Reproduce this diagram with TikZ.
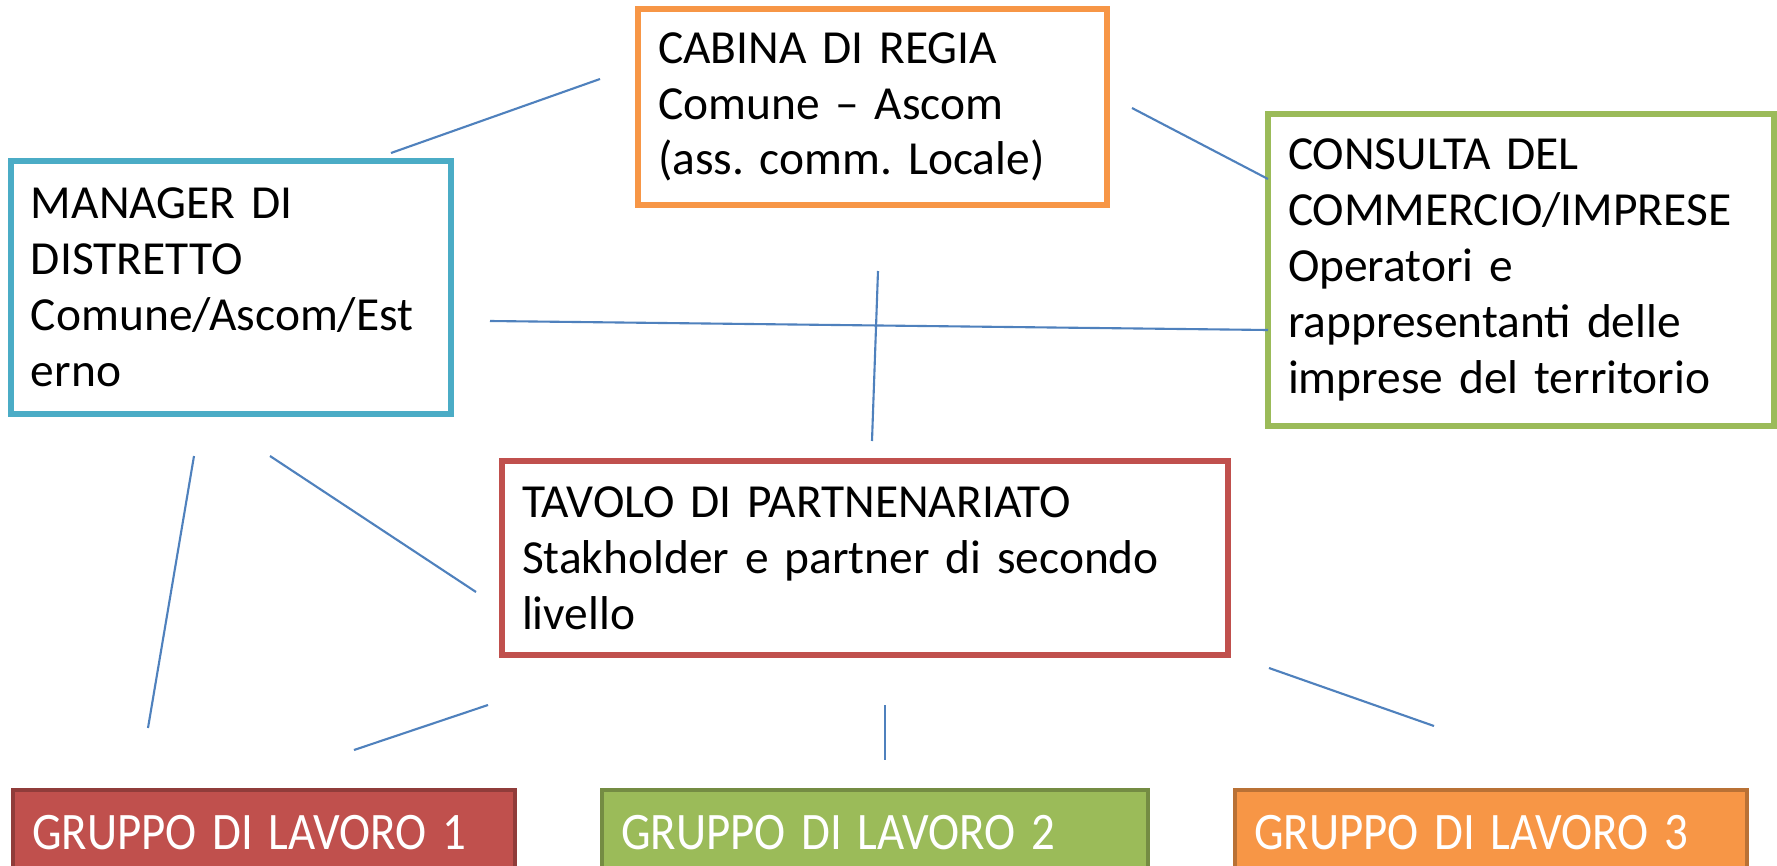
\documentclass[tikz,border=0pt]{standalone}
\usepackage{fontspec}
\setmainfont{Carlito}
\usepackage{tikz}
\usetikzlibrary{calc, positioning}
\usepackage{xcolor}

\definecolor{orangebox}{HTML}{F79646}
\definecolor{bluebox}{HTML}{4BACC6}
\definecolor{greenbox}{HTML}{9BBB59}
\definecolor{redbox}{HTML}{C0504D}
\definecolor{linkblue}{HTML}{4F81BD}

\tikzset{
    box/.style={draw, line width=1.6pt, fill=white, align=left, inner xsep=0.2cm, inner ysep=0pt,
        font=\fontsize{13.5}{15.9}\selectfont},
    group/.style={line width=1.2pt, inner xsep=0.19cm, inner ysep=0pt, minimum height=0.84cm,
        text=white, font=\fontsize{15}{18}\selectfont},
    link/.style={draw=linkblue, line width=0.6pt}
}

\begin{document}
\frenchspacing
\begin{tikzpicture}
                \coordinate (O) at (0, 0);

                \clip (O) rectangle (17.77, -8.66);
                \fill[white] (O) rectangle (17.77, -8.66);

                % boxes
                \node[box, draw=orangebox, text width=4.29cm, minimum height=1.96cm] (cabina) at ($ (O) + (8.725, -1.07) $) {CABINA DI REGIA\\Comune -- Ascom\\(ass. comm. Locale)};

                \node[box, draw=bluebox, text width=4.00cm, minimum height=2.53cm] (manager) at ($ (O) + (2.31, -2.875) $) {MANAGER DI\\DISTRETTO\\Comune/Ascom/Est\\erno};

                \node[box, draw=greenbox, text width=4.66cm, minimum height=3.12cm] (consulta) at ($ (O) + (15.21, -2.70) $) {CONSULTA DEL\\COMMERCIO/IMPRESE\\Operatori e\\rappresentanti delle\\imprese del territorio};

                \node[box, draw=redbox, text width=6.86cm, minimum height=1.94cm] (tavolo) at ($ (O) + (8.65, -5.58) $) {TAVOLO DI PARTNENARIATO\\Stakholder e partner di secondo\\livello};

                % working groups
                \node[group, fill=redbox, draw=redbox!75!black, text width=4.64cm, anchor=north west] (gruppoA) at ($ (O) + (0.11, -7.88) $) {\scalebox{0.89}[1]{GRUPPO DI LAVORO 1}};
                \node[group, fill=greenbox, draw=greenbox!75!black, text width=5.08cm, anchor=north west] (gruppoB) at ($ (O) + (6.00, -7.88) $) {\scalebox{0.89}[1]{GRUPPO DI LAVORO 2}};
                \node[group, fill=orangebox, draw=orangebox!75!black, text width=4.74cm, anchor=north west] (gruppoC) at ($ (O) + (12.33, -7.88) $) {\scalebox{0.89}[1]{GRUPPO DI LAVORO 3}};

                % link ends
                \coordinate (mgrCab) at ($ (O) + (3.91, -1.53) $);
                \coordinate (cabMgr) at ($ (O) + (6.00, -0.79) $);
                \coordinate (cabCon) at ($ (O) + (11.32, -1.08) $);
                \coordinate (conCab) at ($ (O) + (12.68, -1.79) $);
                \coordinate (mgrCon) at ($ (O) + (4.90, -3.21) $);
                \coordinate (conMgr) at ($ (O) + (12.68, -3.30) $);
                \coordinate (cabTav) at ($ (O) + (8.78, -2.71) $);
                \coordinate (tavCab) at ($ (O) + (8.72, -4.41) $);
                \coordinate (mgrTav) at ($ (O) + (2.70, -4.56) $);
                \coordinate (tavMgr) at ($ (O) + (4.76, -5.92) $);
                \coordinate (mgrGrp) at ($ (O) + (1.94, -4.56) $);
                \coordinate (grpMgr) at ($ (O) + (1.48, -7.28) $);
                \coordinate (tavGrpA) at ($ (O) + (4.88, -7.05) $);
                \coordinate (grpATav) at ($ (O) + (3.54, -7.50) $);
                \coordinate (tavGrpB) at ($ (O) + (8.85, -7.05) $);
                \coordinate (grpBTav) at ($ (O) + (8.85, -7.60) $);
                \coordinate (tavGrpC) at ($ (O) + (12.69, -6.68) $);
                \coordinate (grpCTav) at ($ (O) + (14.34, -7.26) $);

                % links
                \draw[link] (mgrCab) -- (cabMgr);
                \draw[link] (cabCon) -- (conCab);
                \draw[link] (mgrCon) -- (conMgr);
                \draw[link] (cabTav) -- (tavCab);
                \draw[link] (mgrTav) -- (tavMgr);
                \draw[link] (mgrGrp) -- (grpMgr);
                \draw[link] (tavGrpA) -- (grpATav);
                \draw[link] (tavGrpB) -- (grpBTav);
                \draw[link] (tavGrpC) -- (grpCTav);

            \end{tikzpicture}
\end{document}
